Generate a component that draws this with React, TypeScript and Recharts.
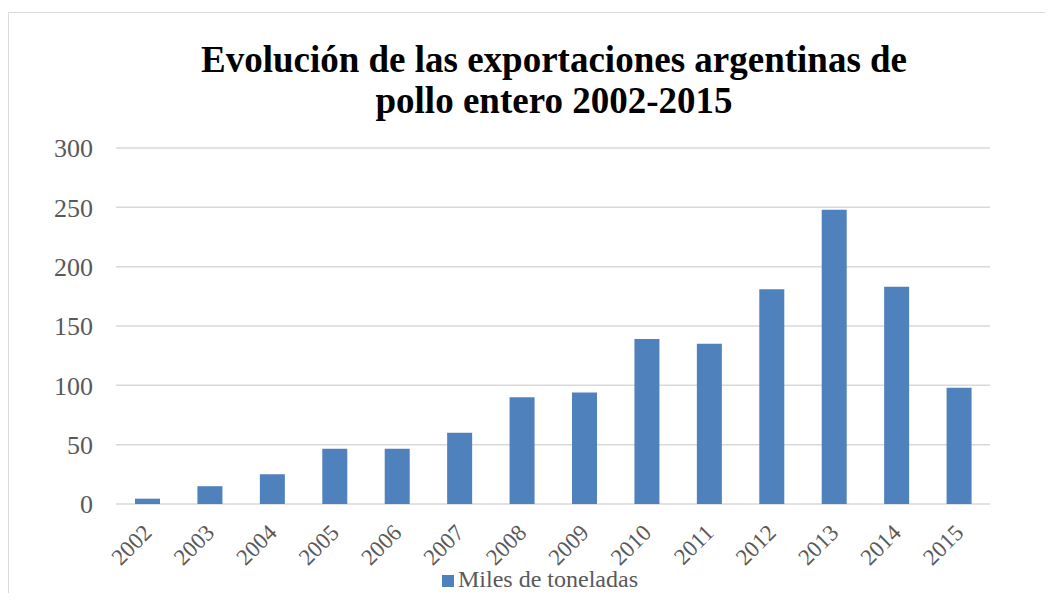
import React from "react";
import { BarChart, Bar, XAxis, YAxis, CartesianGrid, Legend } from "recharts";

// años y miles de toneladas exportadas
const years = ["2002", "2003", "2004", "2005", "2006", "2007", "2008", "2009", "2010", "2011", "2012", "2013", "2014", "2015"];
const toneladas = [4.5, 15, 25, 46.5, 46.5, 60, 90, 94, 139, 135, 181, 248, 183, 98];
const yTicks = [0, 50, 100, 150, 200, 250, 300];

const SERIES_NAME = "Miles de toneladas";
const FONT = "'Liberation Serif', 'Times New Roman', serif";
const GRAY = "#595959";
const BLUE = "#4f81bd";

const data = years.map((year, i) => ({ year, value: toneladas[i] }));

interface TickProps {
  x: number;
  y: number;
  payload: { value: string };
}

// etiquetas del eje X giradas 45°
const YearTick = ({ x, y, payload }: TickProps) => {
  const px = x + 6;
  const py = y + 28;
  return (
    <text
      x={px}
      y={py}
      transform={`rotate(-45 ${px} ${py})`}
      textAnchor="end"
      fontSize={23}
      fontFamily={FONT}
      fill={GRAY}
    >
      {payload.value}
    </text>
  );
};

export default function App() {
  return (
    <div
      style={{
        position: "relative",
        top: 4,
        width: 1040,
        height: 585,
        boxSizing: "border-box",
        borderTop: "1px solid #d9d9d9",
        borderLeft: "1px solid #d9d9d9",
        fontFamily: FONT,
      }}
    >
      <div
        style={{
          position: "absolute",
          top: 26,
          left: 0,
          width: 1090,
          textAlign: "center",
          fontSize: 37,
          lineHeight: "41px",
          fontWeight: "bold",
          color: "#000",
        }}
      >
        Evolución de las exportaciones argentinas de
        <br />
        pollo entero 2002-2015
      </div>
      <BarChart
        width={1039}
        height={584}
        data={data}
        margin={{ top: 135, right: 58, bottom: 63, left: 0 }}
      >
        <CartesianGrid vertical={false} stroke="#d9d9d9" strokeWidth={1.5} />
        <XAxis
          dataKey="year"
          axisLine={false}
          tickLine={false}
          tickSize={0}
          height={30}
          interval={0}
          tick={YearTick}
        />
        <YAxis
          domain={[0, 300]}
          ticks={yTicks}
          width={107}
          axisLine={false}
          tickLine={false}
          tickSize={6}
          tickMargin={17}
          tick={{ fontSize: 26, fill: GRAY, fontFamily: FONT }}
        />
        <Legend
          verticalAlign="middle"
          align="center"
          layout="horizontal"
          iconType="square"
          iconSize={12}
          wrapperStyle={{ top: 553, left: 36, width: 1000, fontSize: 24, fontFamily: FONT }}
          formatter={(value: string) => <span style={{ color: GRAY }}>{value}</span>}
        />
        <Bar
          dataKey="value"
          name={SERIES_NAME}
          fill={BLUE}
          barSize={25}
          isAnimationActive={false}
        />
      </BarChart>
    </div>
  );
}
